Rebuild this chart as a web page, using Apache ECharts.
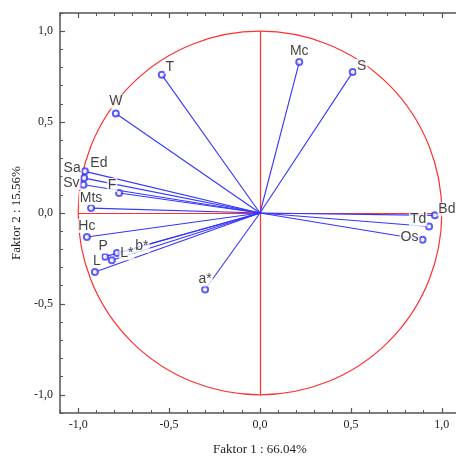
<!DOCTYPE html>
<html>
<head>
<meta charset="utf-8">
<script src="https://cdn.jsdelivr.net/npm/echarts@6/dist/echarts.min.js"></script>
<style>html,body{margin:0;padding:0;background:#fff;overflow:hidden}#c{width:472px;height:456px}</style>
</head>
<body>
<div id="c"></div>
<script>
// ---- data ----
const names   = ['T','Mc','S','W','Ed','Sa','Sv','F','Mts','Hc','P','L','L*','b*','a*','Bd','Td','Os'];
const factor1 = [-0.54,0.216,0.51,-0.793,-0.963,-0.967,-0.971,-0.775,-0.929,-0.952,-0.852,-0.908,-0.815,-0.787,-0.302,0.962,0.93,0.894];
const factor2 = [0.76,0.83,0.775,0.547,0.229,0.192,0.155,0.11,0.027,-0.132,-0.24,-0.324,-0.26,-0.22,-0.421,-0.013,-0.074,-0.147];
const tickValues = [-1,-0.5,0,0.5,1];
const xTitle = 'Faktor 1 : 66.04%';
const yTitle = 'Faktor 2 : 15.56%';

// ---- styling ----
const labelOffsets = {
  'T':[8,-8],'Mc':[0,-11],'S':[9,-6],'W':[0,-12],'Ed':[14,-8],'Sa':[-12,-10],'Sv':[-12,-2],
  'F':[-7,-8],'Mts':[0,-10],'Hc':[0,-11],'P':[-2,-10],'L':[2,-11],'L*':[15,-7],'b*':[25,-7],
  'a*':[0,-10],'Bd':[12,-6],'Td':[-11,-7],'Os':[-13,-3]
};
const blue = '#3535ff', red = '#ff3030', axisCol = '#555';
const serif = 'Liberation Serif';
const rect = {left:60, top:13, width:400, height:400, containLabel:false, outerBoundsMode:'none'};
const fmt = v => (Math.round(v*10)/10).toFixed(1).replace('.', ',');

function baseAxis(extra){
  return Object.assign({type:'value', min:-1.1, max:1.1, interval:0.1, splitLine:{show:false}}, extra);
}
const minorTick = {show:true, inside:true, length:3, lineStyle:{color:axisCol, width:1}};
const majorTick = {show:true, inside:true, length:5, customValues:tickValues, lineStyle:{color:axisCol, width:1.2}};
const axisLine = {show:true, onZero:false, lineStyle:{color:axisCol, width:1.5}};
const hiddenLine = {show:false, onZero:false};
const labelStyle = {show:true, customValues:tickValues, formatter:fmt, color:'#222', fontFamily:serif, fontSize:12};

const option = {
  animation:false,
  grid:[Object.assign({}, rect), Object.assign({}, rect)],
  xAxis:[
    baseAxis({gridIndex:0, position:'bottom', axisLine:axisLine, axisTick:minorTick,
      axisLabel:Object.assign({margin:6}, labelStyle),
      name:xTitle, nameLocation:'middle', nameGap:30,
      nameTextStyle:{fontFamily:serif, fontSize:13, color:'#222'}}),
    baseAxis({gridIndex:0, position:'top', axisLine:axisLine, axisTick:minorTick, axisLabel:{show:false}}),
    baseAxis({gridIndex:1, position:'bottom', axisLine:hiddenLine, axisTick:majorTick, axisLabel:{show:false}}),
    baseAxis({gridIndex:1, position:'top', axisLine:hiddenLine, axisTick:majorTick, axisLabel:{show:false}})
  ],
  yAxis:[
    baseAxis({gridIndex:0, position:'left', axisLine:axisLine, axisTick:minorTick,
      axisLabel:Object.assign({margin:7}, labelStyle),
      name:yTitle, nameLocation:'middle', nameGap:36,
      nameTextStyle:{fontFamily:serif, fontSize:13, color:'#222'}}),
    baseAxis({gridIndex:1, position:'left', axisLine:hiddenLine, axisTick:majorTick, axisLabel:{show:false}})
  ],
  series:[
    {
      type:'custom', xAxisIndex:0, yAxisIndex:0, z:1, silent:true,
      data:[[0,0]],
      renderItem:function(params, api){
        const c = api.coord([0,0]);
        const r = api.size([1,0])[0];
        return {type:'circle', shape:{cx:c[0], cy:c[1], r:r}, style:{fill:null, stroke:red, lineWidth:1.2}};
      }
    },
    {
      type:'lines', coordinateSystem:'cartesian2d', xAxisIndex:0, yAxisIndex:0, z:2, silent:true,
      lineStyle:{color:red, width:1.2, opacity:1},
      data:[{coords:[[-1,0],[1,0]]},{coords:[[0,-1],[0,1]]}]
    },
    {
      type:'lines', coordinateSystem:'cartesian2d', xAxisIndex:0, yAxisIndex:0, z:3, silent:true,
      lineStyle:{color:blue, width:1.1, opacity:1},
      data:names.map((n,i)=>({coords:[[0,0],[factor1[i],factor2[i]]]}))
    },
    {
      type:'scatter', xAxisIndex:0, yAxisIndex:0, z:5,
      symbol:'emptyCircle', symbolSize:6,
      itemStyle:{color:blue, borderWidth:1},
      label:{show:true, position:'inside', formatter:'{b}', color:'#111',
        fontFamily:'Liberation Sans', fontSize:14, backgroundColor:'#fff', padding:[0,1], lineHeight:14},
      labelLayout:function(p){
        const o = labelOffsets[names[p.dataIndex]] || [0,-10];
        return {dx:o[0], dy:o[1], hideOverlap:false};
      },
      data:names.map((n,i)=>({name:n, value:[factor1[i],factor2[i]]}))
    }
  ]
};
const chart = echarts.init(document.getElementById('c'), null, {renderer:'canvas'});
chart.setOption(option);
</script>
</body>
</html>
